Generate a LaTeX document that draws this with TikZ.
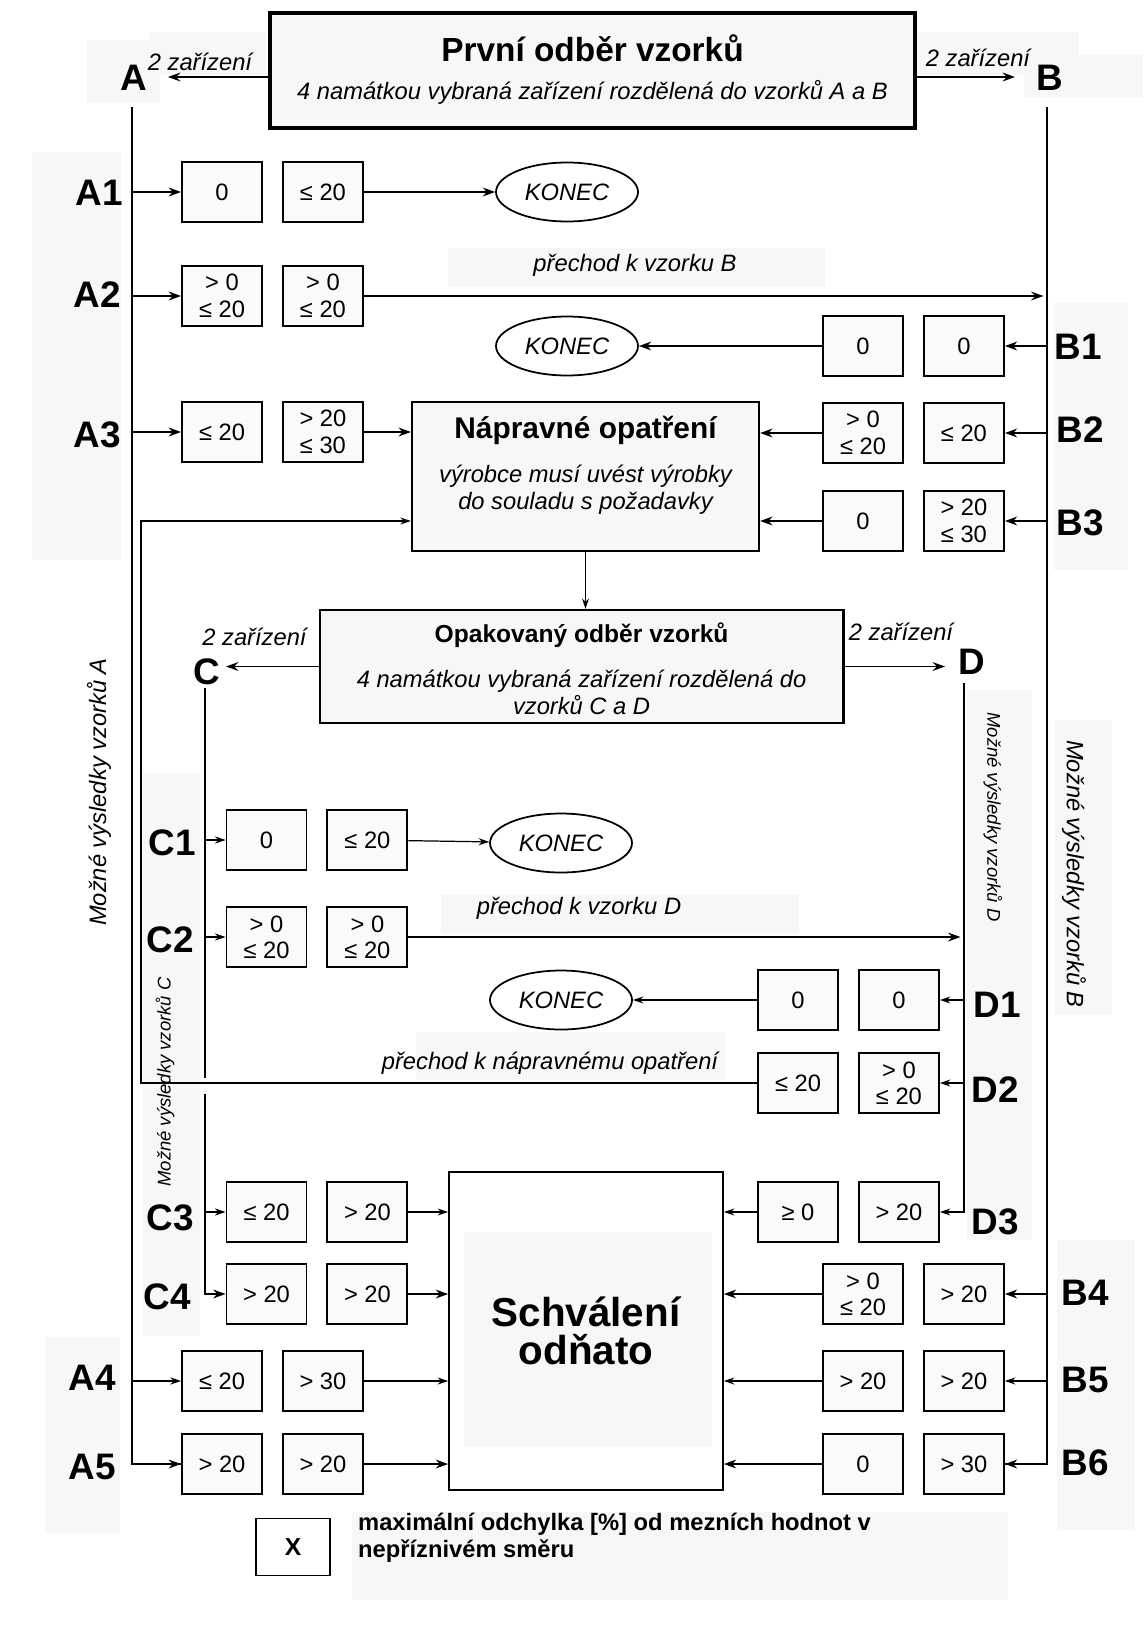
\documentclass[tikz,border=0pt]{standalone}
\usepackage{fontspec}
\setmainfont{Liberation Sans}
\usetikzlibrary{shapes.geometric, arrows.meta, positioning}

\newcommand{\lblfont}{\bfseries\fontsize{21}{24}\selectfont}
\newcommand{\valfont}{\fontsize{13.5}{15}\selectfont}
\newcommand{\notefont}{\itshape\fontsize{13.5}{15.3}\selectfont}

\begin{document}
\begin{tikzpicture}[x=0.02cm, y=-0.02cm,
  val/.style={rectangle, draw, line width=1.1pt, fill=black!2, minimum width=1.6cm, minimum height=1.2cm, inner sep=1pt, align=center, font=\valfont},
  bigbox/.style={rectangle, draw, line width=1.3pt, fill=black!3},
  konec/.style={ellipse, draw, line width=1pt, fill=white, minimum width=2.84cm, minimum height=1.18cm, inner sep=0pt, font=\notefont},
  lbl/.style={font=\lblfont, inner sep=1pt},
  note/.style={font=\notefont, inner sep=1pt, align=center},
  smallnote/.style={font=\itshape\fontsize{10.5}{12}\selectfont, inner sep=1pt},
  scanbg/.style={fill=black!3, draw=none},
  arr/.style={-{Stealth[length=7pt, width=5pt]}, line width=1.1pt},
  tarr/.style={-{Stealth[length=6pt, width=4pt]}, line width=0.7pt},
  ln/.style={line width=1.1pt},
]
\useasboundingbox (0,0) rectangle (1143,1636);

% faint scan background
\fill[scanbg] (32,152) rectangle (121,560);
\fill[scanbg] (45,1337) rectangle (120,1533);
\fill[scanbg] (143,773) rectangle (200,1336);
\fill[scanbg] (967,690) rectangle (1032,1240);
\fill[scanbg] (1055,720) rectangle (1112,1015);
\fill[scanbg] (1054,303) rectangle (1128,570);
\fill[scanbg] (1057,1240) rectangle (1135,1530);
\fill[scanbg] (87,40) rectangle (160,103);
\fill[scanbg] (149,32) rectangle (266,75);
\fill[scanbg] (915,32) rectangle (1079,75);
\fill[scanbg] (1024,55) rectangle (1143,97);
\fill[scanbg] (448,248) rectangle (825,287);
\fill[scanbg] (441,895) rectangle (799,933);
\fill[scanbg] (416,1032) rectangle (726,1080);
\fill[scanbg] (352,1512) rectangle (1008,1600);
\fill[scanbg] (464,1232) rectangle (712,1447);

% first sampling
\node[bigbox, line width=2.4pt, minimum width=12.9cm, minimum height=2.3cm] (top) at (592.5,70.5) {};
\node[font=\bfseries\fontsize{19}{22}\selectfont] (topT) at (592.5,48) {První odběr vzorků};
\node[note] (topS) at (592.5,92) {4 namátkou vybraná zařízení rozdělená do vzorků A a B};
\node[lbl] (labA) at (134,78) {A};
\node[note] (zarA) at (200,62) {2 zařízení};
\node[lbl] (labB) at (1050,78) {B};
\node[note] (zarB) at (978,58) {2 zařízení};
\coordinate (aIn) at (168,77);
\coordinate (bIn) at (1015,77);
\coordinate (aTop) at (132,107);
\coordinate (bTop) at (1047,107);

% results of sample A
\node[val] (a1a) at (222,192) {0};
\node[val, right=0.38cm of a1a] (a1b) {≤ 20};
\node[lbl] (la1) at (99,193) {A1};
\node[val] (a2a) at (222,296) {> 0\\≤ 20};
\node[val, right=0.38cm of a2a] (a2b) {> 0\\≤ 20};
\node[lbl] (la2) at (97,295) {A2};
\node[val] (a3a) at (222,432) {≤ 20};
\node[val, right=0.38cm of a3a] (a3b) {> 20\\≤ 30};
\node[lbl] (la3) at (97,435) {A3};
\node[val] (a4a) at (222,1381) {≤ 20};
\node[val, right=0.38cm of a4a] (a4b) {> 30};
\node[lbl] (la4) at (92,1378) {A4};
\node[val] (a5a) at (222,1464) {> 20};
\node[val, right=0.38cm of a5a] (a5b) {> 20};
\node[lbl] (la5) at (92,1467) {A5};

% results of sample B
\node[val] (b1a) at (863,346) {0};
\node[val, right=0.38cm of b1a] (b1b) {0};
\node[lbl] (lb1) at (1078,347) {B1};
\node[val] (b2a) at (863,433) {> 0\\≤ 20};
\node[val, right=0.38cm of b2a] (b2b) {≤ 20};
\node[lbl] (lb2) at (1080,430) {B2};
\node[val] (b3a) at (863,521) {0};
\node[val, right=0.38cm of b3a] (b3b) {> 20\\≤ 30};
\node[lbl] (lb3) at (1080,523) {B3};
\node[val] (b4a) at (863,1294) {> 0\\≤ 20};
\node[val, right=0.38cm of b4a] (b4b) {> 20};
\node[lbl] (lb4) at (1085,1293) {B4};
\node[val] (b5a) at (863,1381) {> 20};
\node[val, right=0.38cm of b5a] (b5b) {> 20};
\node[lbl] (lb5) at (1085,1380) {B5};
\node[val] (b6a) at (863,1464) {0};
\node[val, right=0.38cm of b6a] (b6b) {> 30};
\node[lbl] (lb6) at (1085,1463) {B6};

\node[konec] (end1) at (567,192) {KONEC};
\node[konec] (end2) at (567,346) {KONEC};
\node[note] (prB) at (635,265) {přechod k vzorku B};

% corrective action
\node[bigbox, minimum width=6.94cm, minimum height=2.98cm] (nap) at (585.5,476.5) {};
\node[font=\bfseries\fontsize{17}{20}\selectfont] (napT) at (585.5,430) {Nápravné opatření};
\node[note] (napS) at (585.5,490) {výrobce musí uvést výrobky\\do souladu s požadavky};

% repeated sampling
\node[bigbox, minimum width=10.48cm, minimum height=2.26cm] (opak) at (581.6,666.5) {};
\node[font=\bfseries\fontsize{14}{17}\selectfont] (opakT) at (581.6,635) {Opakovaný odběr vzorků};
\node[note] (opakS) at (581.6,692) {4 namátkou vybraná zařízení rozdělená do\\vzorků C a D};
\node[lbl] (labC) at (206.5,672) {C};
\node[note] (zarC) at (254.5,637) {2 zařízení};
\node[lbl] (labD) at (971.6,662) {D};
\node[note] (zarD) at (901,632) {2 zařízení};
\coordinate (cIn) at (226,666);
\coordinate (dIn) at (945,666);
\coordinate (cTop) at (205,688);
\coordinate (dTop) at (964,683);
\coordinate (cGapA) at (205,1078);
\coordinate (cGapB) at (205,1094);
\coordinate (ret) at (141,521);

% results of sample C
\node[val] (c1a) at (266.5,840) {0};
\node[val, right=0.38cm of c1a] (c1b) {≤ 20};
\node[lbl] (lc1) at (172,843) {C1};
\node[val] (c2a) at (266.5,937) {> 0\\≤ 20};
\node[val, right=0.38cm of c2a] (c2b) {> 0\\≤ 20};
\node[lbl] (lc2) at (170,940) {C2};
\node[val] (c3a) at (266.5,1212) {≤ 20};
\node[val, right=0.38cm of c3a] (c3b) {> 20};
\node[lbl] (lc3) at (170,1218) {C3};
\node[val] (c4a) at (266.5,1294) {> 20};
\node[val, right=0.38cm of c4a] (c4b) {> 20};
\node[lbl] (lc4) at (167,1297) {C4};

% results of sample D
\node[val] (d1a) at (798,1000) {0};
\node[val, right=0.38cm of d1a] (d1b) {0};
\node[lbl] (ld1) at (997,1005) {D1};
\node[val] (d2a) at (798,1083) {≤ 20};
\node[val, right=0.38cm of d2a] (d2b) {> 0\\≤ 20};
\node[lbl] (ld2) at (995,1090) {D2};
\node[val] (d3a) at (798,1212) {≥ 0};
\node[val, right=0.38cm of d3a] (d3b) {> 20};
\node[lbl] (ld3) at (995,1222) {D3};

\node[konec] (end3) at (561,843) {KONEC};
\node[konec] (end4) at (561,1000) {KONEC};
\node[note] (prD) at (579,908) {přechod k vzorku D};
\node[note] (prN) at (550,1063) {přechod k nápravnému opatření};

% withdrawal
\node[rectangle, draw, line width=1pt, minimum width=5.48cm, minimum height=6.36cm, align=center, font=\bfseries\fontsize{23}{22}\selectfont] (schv) at (586,1331) {Schválení\\odňato};

% side notes
\node[note, rotate=90] (vzA) at (99,792) {Možné výsledky vzorků A};
\node[note, rotate=-90] (vzB) at (1074,874) {Možné výsledky vzorků B};
\node[smallnote, rotate=90] (vzC) at (165,1082) {Možné výsledky vzorků C};
\node[smallnote, rotate=-90] (vzD) at (993,817) {Možné výsledky vzorků D};

% legend
\node[rectangle, draw, line width=1.1pt, minimum width=1.48cm, minimum height=1.14cm, font=\bfseries\fontsize{14}{16}\selectfont] (leg) at (293,1547) {X};
\node[anchor=west, align=left, font=\bfseries\fontsize{13.5}{15.3}\selectfont] (legT) at (352,1538) {maximální odchylka [\%] od mezních hodnot v\\nepříznivém směru};

% Arrows
\draw[arr] (top.west |- aIn) -- (aIn);
\draw[arr] (top.east |- bIn) -- (bIn);
\draw[ln] (aTop) |- (a5a.west);
\draw[arr] (a5a.west -| aTop) -- (a5a.west);
\draw[ln] (bTop) |- (b6b.east);
\draw[arr] (b6b.east -| bTop) -- (b6b.east);
\draw[arr] (a1a.west -| aTop) -- (a1a.west);
\draw[arr] (a2a.west -| aTop) -- (a2a.west);
\draw[arr] (a3a.west -| aTop) -- (a3a.west);
\draw[tarr] (a4a.west -| aTop) -- (a4a.west);
\draw[arr] (b1b.east -| bTop) -- (b1b.east);
\draw[arr] (b2b.east -| bTop) -- (b2b.east);
\draw[arr] (b3b.east -| bTop) -- (b3b.east);
\draw[arr] (b4b.east -| bTop) -- (b4b.east);
\draw[tarr] (b5b.east -| bTop) -- (b5b.east);
\draw[arr] (a1b) -- (end1);
\draw[arr, shorten >=2pt] (a2b.east) -- (a2b.east -| bTop);
\draw[arr] (b1a) -- (end2);
\draw[arr] (a3b.east) -- (a3b.east -| nap.west);
\draw[arr] (b2a.west) -- (b2a.west -| nap.east);
\draw[arr] (b3a.west) -- (b3a.west -| nap.east);
\draw[tarr] (nap.south) -- (nap.south |- opak.north);
\draw[arr] (opak.west) -- (opak.west -| cIn);
\draw[arr] (opak.east) -- (opak.east -| dIn);
\draw[ln] (cTop) -- (cGapA);
\draw[arr] (cGapB) |- (c4a.west);
\draw[tarr] (c1a.west -| cTop) -- (c1a.west);
\draw[tarr] (c2a.west -| cTop) -- (c2a.west);
\draw[tarr] (c3a.west -| cTop) -- (c3a.west);
\draw[tarr] (c1b) -- (end3);
\draw[arr, shorten >=2pt] (c2b.east) -- (c2b.east -| dTop);
\draw[tarr] (dTop) |- (d3b.east);
\draw[tarr] (d1b.east -| dTop) -- (d1b.east);
\draw[tarr] (d2b.east -| dTop) -- (d2b.east);
\draw[tarr] (d1a) -- (end4);
\draw[tarr] (d2a.west) -| (ret) -- (ret -| nap.west);
\draw[tarr] (c3b.east) -- (c3b.east -| schv.west);
\draw[arr] (c4b.east) -- (c4b.east -| schv.west);
\draw[tarr] (a4b.east) -- (a4b.east -| schv.west);
\draw[arr] (a5b.east) -- (a5b.east -| schv.west);
\draw[tarr] (d3a.west) -- (d3a.west -| schv.east);
\draw[arr] (b4a.west) -- (b4a.west -| schv.east);
\draw[tarr] (b5a.west) -- (b5a.west -| schv.east);
\draw[arr] (b6a.west) -- (b6a.west -| schv.east);
\end{tikzpicture}
\end{document}
